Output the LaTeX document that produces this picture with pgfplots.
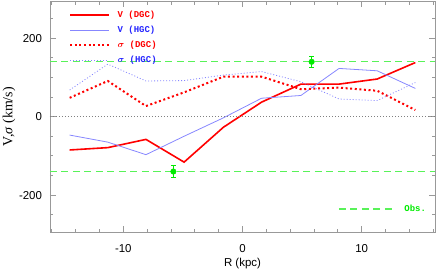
\documentclass[border=0pt]{standalone}
\usepackage{pgfplots}
\pgfplotsset{compat=1.18}
\usepackage{fontspec}
\setmainfont{Liberation Sans}
\newfontfamily\mono{Liberation Mono}
\newfontfamily\serifl{Liberation Serif}
\definecolor{vred}{rgb}{1,0,0}
\definecolor{lblue}{rgb}{0.53,0.53,1}
\definecolor{tblue}{rgb}{0.15,0.15,1}
\definecolor{obsgreen}{rgb}{0.35,0.95,0.35}
\definecolor{pgreen}{rgb}{0,0.92,0}
\definecolor{framegray}{rgb}{0.6,0.6,0.6}
\begin{document}
\begin{tikzpicture}
\useasboundingbox (-50bp,-38.7bp) rectangle (386bp,232.3bp);
\begin{axis}[
  scale only axis, width=385bp, height=231.3bp,
  xmin=-16.15, xmax=16.15, ymin=-295, ymax=295,
  xtick={-10,0,10}, minor xtick={-16,-14,...,16},
  ytick={-200,0,200}, minor ytick={-250,-200,...,250},
  axis line style={framegray, line width=0.8bp},
  tick style={framegray, line width=0.8bp},
  major tick length=6bp, minor tick length=3.5bp,
  /pgf/number format/assume math mode=true,
  ticklabel style={font=\fontsize{11.5}{12}\selectfont},
  xticklabel style={yshift=-8.5bp},
  yticklabel style={xshift=-4.5bp},
  xlabel={R (kpc)},
  xlabel style={font=\fontsize{11.5}{12}\selectfont, at={(axis description cs:0.5,0)}, anchor=center, yshift=-31bp},
  ylabel={{\serifl V,\textit{σ} (km/s)}},
  ylabel style={font=\fontsize{14}{14}\selectfont, at={(axis description cs:0,0.5)}, anchor=center, yshift=41bp},
  legend style={draw=none, fill=none, at={(axis description cs:0,1)}, anchor=north west,
    xshift=19bp, yshift=-9.5bp, font=\mono\bfseries\fontsize{9}{9}\selectfont,
    row sep=6.6bp, column sep=8bp, inner sep=0pt,
    nodes={inner sep=0pt, text height=6.5bp, text depth=2bp, anchor=west}},
  legend cell align=left,
  legend image code/.code={\draw[#1] (0bp,0bp) -- (38.5bp,0bp);},
]
\addplot[color=vred, line width=1.6bp] coordinates {
(-14.5,-85) (-11.3,-79) (-8.1,-58) (-4.9,-116) (-1.6,-27) (1.6,37) (4.9,83) (8.1,83) (11.3,96) (14.5,138)};
\addlegendentry{\textcolor{vred}{V (DGC)}}
\addplot[color=lblue, line width=0.8bp] coordinates {
(-14.5,-47) (-11.3,-65) (-8.1,-97) (-4.9,-50) (-1.6,-3) (1.6,47) (4.9,54) (8.1,123) (11.3,117) (14.5,72)};
\addlegendentry{\textcolor{tblue}{V (HGC)}}
\addplot[color=vred, line width=2bp, dash pattern=on 2bp off 2.6bp] coordinates {
(-14.5,48) (-11.3,91) (-8.1,27) (-4.9,62) (-1.6,102) (1.6,102) (4.9,70) (8.1,74) (11.3,66) (14.5,17)};
\addlegendentry{\textcolor{vred}{\boldmath$\sigma$ (DGC)}}
\addplot[color=lblue, line width=0.8bp, dash pattern=on 1bp off 2bp] coordinates {
(-14.5,68) (-11.3,134) (-8.1,91) (-4.9,92) (-1.6,106) (1.6,115) (4.9,89) (8.1,45) (11.3,41) (14.5,87)};
\addlegendentry{\textcolor{tblue}{\boldmath$\sigma$ (HGC)}}

\addplot[obsgreen, line width=1.3bp, dash pattern=on 7bp off 4.5bp] coordinates {(-16.15,140) (16.15,140)};
\addplot[obsgreen, line width=1.3bp, dash pattern=on 7bp off 4.5bp] coordinates {(-16.15,-140) (16.15,-140)};
\addplot[gray, line width=0.8bp, dash pattern=on 1bp off 2bp] coordinates {(-16.15,0) (16.15,0)};

\addplot[only marks, mark=*, color=pgreen, mark size=2.8bp,
  error bars/.cd, y dir=both, y explicit,
  error bar style={color=pgreen, line width=0.8bp},
  error mark options={rotate=90, mark size=2.5bp, color=pgreen}]
  coordinates {(5.8,140) +- (0,15) (-5.8,-140) +- (0,15)};
\end{axis}
\begin{axis}[
  scale only axis, width=385bp, height=231.3bp,
  xmin=-16.15, xmax=16.15, ymin=-295, ymax=295, hide axis,
  legend style={draw=none, fill=none, at={(axis description cs:0.748,0.1007)}, anchor=west,
    font=\mono\bfseries\fontsize{9}{9}\selectfont, column sep=10bp, inner sep=0pt,
    nodes={inner sep=0pt, text height=6.5bp, text depth=2bp, anchor=west}},
  legend image code/.code={\draw[#1] (0bp,0bp) -- (55bp,0bp);},
]
\addlegendimage{obsgreen, line width=1.2bp, dash pattern=on 7bp off 4.5bp}
\addlegendentry{\textcolor{pgreen}{Obs.}}
\end{axis}
\end{tikzpicture}
\end{document}
